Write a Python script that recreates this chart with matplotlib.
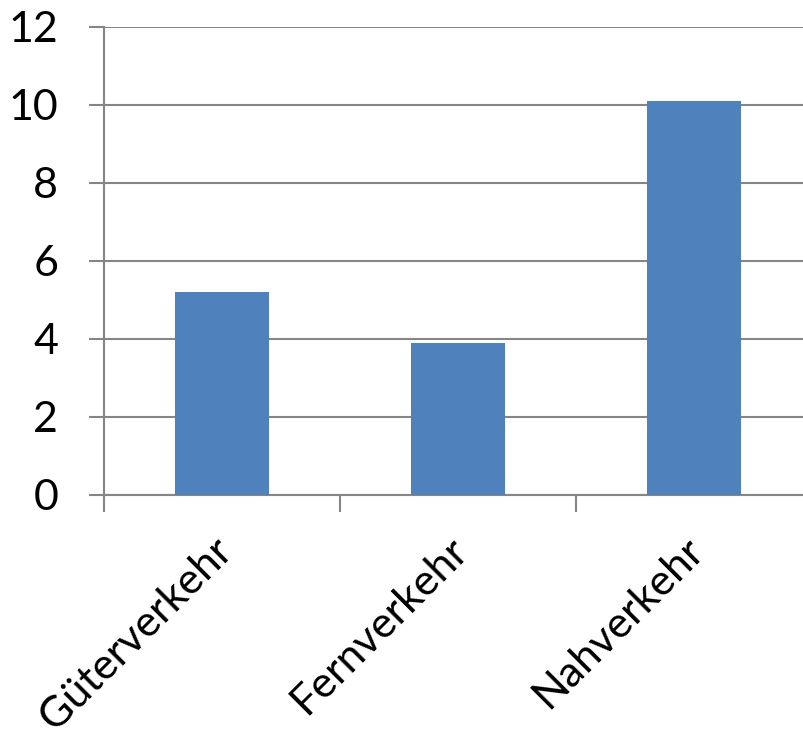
import matplotlib.pyplot as plt
import matplotlib.transforms as mtransforms
import numpy as np

categories = ['Güterverkehr', 'Fernverkehr', 'Nahverkehr']
values = [5.2, 3.9, 10.1]
y_ticks = [0, 2, 4, 6, 8, 10, 12]

plt.rcParams['font.family'] = ['Lato', 'DejaVu Sans']

fig = plt.figure(figsize=(8.04, 7.40), dpi=100)
ax = fig.add_axes([104 / 804, 1 - 495 / 740, 708 / 804, 468 / 740])

grid_col = '#868686'
x = np.arange(len(categories))
ax.bar(x, values, width=0.4, color='#4F81BD', zorder=3)

ax.set_xlim(-0.5, len(categories) - 0.5)
ax.set_ylim(0, 12)
ax.set_yticks(y_ticks)
ax.set_yticklabels([str(v) for v in y_ticks], fontsize=31)
ax.yaxis.grid(True, color=grid_col, linewidth=1.5, zorder=0)
ax.tick_params(axis='y', length=11, width=1.5, color=grid_col, pad=22)

# category labels sit at the bar centres, tick marks at the category borders
ax.set_xticks(x)
ax.set_xticklabels(categories, fontsize=31, rotation=45, ha='right',
                   va='top', rotation_mode='anchor')
ax.tick_params(axis='x', which='major', length=0, pad=26)
ax.set_xticks(x - 0.5, minor=True)
ax.tick_params(axis='x', which='minor', length=12, width=1.5, color=grid_col)

shift = mtransforms.ScaledTranslation(-10 / 100, 0, fig.dpi_scale_trans)
for lbl in ax.get_xticklabels():
    lbl.set_transform(lbl.get_transform() + shift)

for side in ['top', 'right']:
    ax.spines[side].set_visible(False)
for side in ['left', 'bottom']:
    ax.spines[side].set_color(grid_col)
    ax.spines[side].set_linewidth(1.5)

fig.savefig('out.png', dpi=100)
